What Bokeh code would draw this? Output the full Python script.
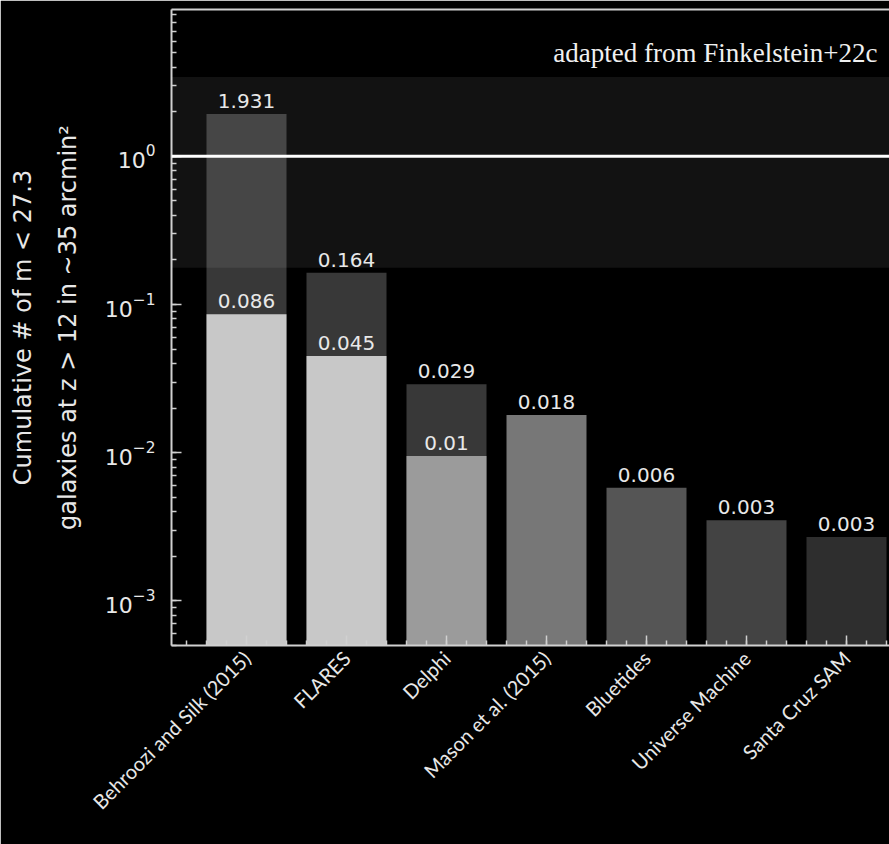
import numpy as np
from bokeh.plotting import figure
from bokeh.core.properties import value
from bokeh.models import (ColumnDataSource, FixedTicker, LabelSet, Label, Span,
                          BoxAnnotation, LinearAxis, Range1d)
from bokeh.embed import file_html
from bokeh.resources import INLINE

# ---- data ----
models = ["Behroozi and Silk (2015)", "FLARES", "Delphi", "Mason et al. (2015)",
          "Bluetides", "Universe Machine", "Santa Cruz SAM"]
lower_values = [0.086, 0.045, 0.0095, 0.018, 0.0058, 0.0035, 0.0027]
lower_labels = ["0.086", "0.045", "0.01", "0.018", "0.006", "0.003", "0.003"]
upper_values = [1.931, 0.164, 0.029]
upper_labels = ["1.931", "0.164", "0.029"]
band_low = 0.177
band_high = 3.43
reference_level = 1.0

# ---- style ----
lower_colors = ["#c8c8c8", "#c8c8c8", "#9b9b9b", "#777777", "#555555", "#434343", "#2e2e2e"]
upper_color = "#383838"
axis_color = "#d0d0d0"
text_color = "#e8e8e8"

x_lower = list(range(len(models)))
x_upper = list(range(len(upper_values)))

p = figure(width=889, height=844, y_axis_type="log",
           x_range=Range1d(-0.75, 6.43), y_range=Range1d(5e-4, 9.8),
           output_backend="svg", toolbar_location=None,
           min_border_left=171, min_border_right=0, min_border_top=9,
           min_border_bottom=199,
           background_fill_color="black", border_fill_color="black",
           outline_line_color=None)
p.grid.visible = False

src_up = ColumnDataSource(dict(x=x_upper, top=upper_values, label=upper_labels))
src_lo = ColumnDataSource(dict(x=x_lower, top=lower_values, label=lower_labels,
                               color=lower_colors))

p.vbar(x="x", top="top", bottom=1e-6, width=0.8, fill_color=upper_color,
       line_color=None, source=src_up)
p.vbar(x="x", top="top", bottom=1e-6, width=0.8, fill_color="color",
       line_color=None, source=src_lo)

band = BoxAnnotation(bottom=band_low, top=band_high, fill_color="white",
                     fill_alpha=0.07, line_color=None)
p.add_layout(band)
p.add_layout(Span(location=reference_level, dimension="width",
                  line_color="white", line_width=3))

for src in (src_up, src_lo):
    p.add_layout(LabelSet(x="x", y="top", text="label", source=src,
                          text_align="center", text_baseline="alphabetic",
                          y_offset=6, text_color=text_color,
                          text_font_size=value("20px"),
                          text_font=value("DejaVu Sans")))

p.add_layout(Label(x=6.31, y=5.0, text="adapted from Finkelstein+22c",
                   text_align="right", text_baseline="alphabetic",
                   text_font="Liberation Serif", text_font_size="27px",
                   text_color="#f0f0f0"))

# x axis
xa = p.below[0]
xa.ticker = FixedTicker(ticks=x_lower,
                        minor_ticks=[round(v, 2) for v in np.arange(-0.6, 6.41, 0.2)])
xa.major_label_overrides = {i: m for i, m in enumerate(models)}
xa.major_label_orientation = np.pi / 4
xa.major_label_text_font = "Lato"
xa.major_label_text_font_size = "20px"
xa.major_label_text_color = text_color
xa.major_label_standoff = 9

# y axis
ya = p.left[0]
ya.major_label_text_font = "DejaVu Sans"
ya.major_label_text_font_size = "22px"
ya.major_label_text_color = text_color
ya.major_label_standoff = 16
ya.axis_label = "Cumulative # of m < 27.3\ngalaxies at z > 12 in ~35 arcmin\u00b2"
ya.axis_label_text_font = "DejaVu Sans"
ya.axis_label_text_font_size = "24px"
ya.axis_label_text_font_style = "normal"
ya.axis_label_text_color = text_color
ya.axis_label_text_line_height = 1.6
ya.axis_label_standoff = 20

for ax in (xa, ya):
    ax.axis_line_color = axis_color
    ax.axis_line_width = 2
    ax.major_tick_line_color = axis_color
    ax.minor_tick_line_color = axis_color
    ax.major_tick_line_width = 1.5
    ax.minor_tick_line_width = 1.5
    ax.major_tick_in = 10
    ax.major_tick_out = 0
    ax.minor_tick_in = 5
    ax.minor_tick_out = 0

top_ax = LinearAxis(ticker=FixedTicker(ticks=[]), axis_line_color=axis_color,
                    axis_line_width=2, major_tick_line_color=None,
                    minor_tick_line_color=None, major_label_text_font_size="0px",
                    major_label_standoff=0, axis_label_standoff=0,
                    major_tick_out=0, major_tick_in=0)
p.add_layout(top_ax, "above")

open("out.html", "w").write(file_html(p, INLINE))
